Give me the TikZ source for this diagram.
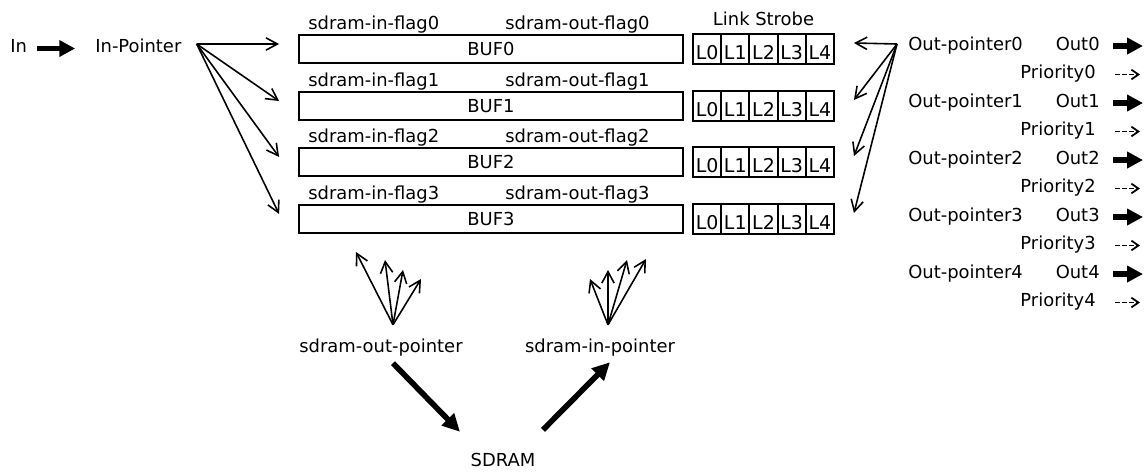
\documentclass[tikz,border=0pt]{standalone}
\usepackage{fontspec}
\setmainfont{DejaVu Sans}
\usetikzlibrary{arrows.meta,calc}
\begin{document}
\begin{tikzpicture}[x=0.02cm,y=-0.02cm,
  every node/.style={font=\fontsize{10.2}{12}\selectfont},
  txt/.style={inner sep=0pt, text height=7.3pt, text depth=2.2pt},
  bufbox/.style={draw, line width=1.1pt, minimum width=7.68cm, minimum height=0.56cm, inner sep=0pt},
  cell/.style={draw, line width=1.1pt, minimum width=0.564cm, minimum height=0.6cm, inner sep=0pt,
    font=\fontsize{10.8}{12}\selectfont, text height=12.4pt, text depth=0pt},
  fan/.style={line width=0.9pt, -{Straight Barb[length=6.5pt,width=7pt]}},
  fat/.style={line width=3pt, -{Triangle[length=9pt,width=9pt]}},
  heavy/.style={line width=3.2pt, -{Triangle[length=10pt,width=9.5pt]}},
  prio/.style={line width=1pt, dash pattern=on 3pt off 1pt, -{Straight Barb[length=4pt,width=5.5pt]}}]

\useasboundingbox (0,0) rectangle (1147,472);

% buffers with their flags and link strobe cells
\foreach \k/\y in {0/49,1/106,2/162,3/219} {
  \node[bufbox] (buf\k) at (491,\y) {BUF\k};
  \node[txt, anchor=base west] (inf\k) at (308,\y-19) {sdram-in-flag\k};
  \node[txt, anchor=base west] (outf\k) at (505,\y-19) {sdram-out-flag\k};
  \foreach \j in {0,...,4}
    \node[cell] (l\k\j) at (707.1+28.2*\j,\y) {L\j};
}
\node[txt, anchor=base] (ls) at (763.5,26) {Link Strobe};

% input side
\node[txt, anchor=base west] (in) at (10,53) {In};
\node[txt, anchor=base west] (inptr) at (95,53) {In-Pointer};
\draw[fat, shorten <=5.7pt, shorten >=11.3pt] (in.east) -- (inptr.west);
\coordinate (inhub) at ($(inptr.east)+(15,-4.5)$);
\foreach \k in {0,...,3}
  \draw[fan] (inhub) -- ($(buf\k.west)+(-19,-5)$);

% output side
\foreach \k in {0,...,4} {
  \node[txt, anchor=base west] (op\k) at (908,50.5+57*\k) {Out-pointer\k};
  \node[txt, anchor=base east] (out\k) at (1100,50.5+57*\k) {Out\k};
  \node[txt, anchor=base east] (pr\k) at (1096,79+57*\k) {Priority\k};
  \draw[fat] ($(out\k.east)+(13,0)$) -- ($(out\k.east)+(43,0)$);
  \draw[prio] ($(pr\k.east)+(19,0)$) -- ($(pr\k.east)+(44,0)$);
}
\coordinate (ophub) at ($(op0.west)+(-11,-2)$);
\foreach \k in {0,...,3}
  \draw[fan] (ophub) -- ($(l\k4.east)+(19,-6)$);

% SDRAM pointers
\node[txt, anchor=base] (sop) at (381,353) {sdram-out-pointer};
\node[txt, anchor=base] (sip) at (600,353) {sdram-in-pointer};
\node[txt, anchor=base] (sdram) at (503,467) {SDRAM};

\coordinate (sophub) at ($(sop.north)+(12,-15)$);
\coordinate (sot0) at (356,252);
\coordinate (sot1) at (385,260);
\coordinate (sot2) at (403,270);
\coordinate (sot3) at (421,279);
\foreach \t in {0,...,3}
  \draw[fan] (sophub) -- (sot\t);

\coordinate (siphub) at ($(sip.north)+(8,-15)$);
\coordinate (sit0) at (590,279);
\coordinate (sit1) at (608,270);
\coordinate (sit2) at (627,260);
\coordinate (sit3) at (646,259);
\foreach \t in {0,...,3}
  \draw[fan] (siphub) -- (sit\t);

\draw[heavy] ($(sop.south)+(12,6)$) -- ($(sdram.north)+(-43,-22)$);
\draw[heavy] ($(sdram.north)+(40,-24)$) -- ($(sip.south)+(10,5)$);
\end{tikzpicture}
\end{document}
